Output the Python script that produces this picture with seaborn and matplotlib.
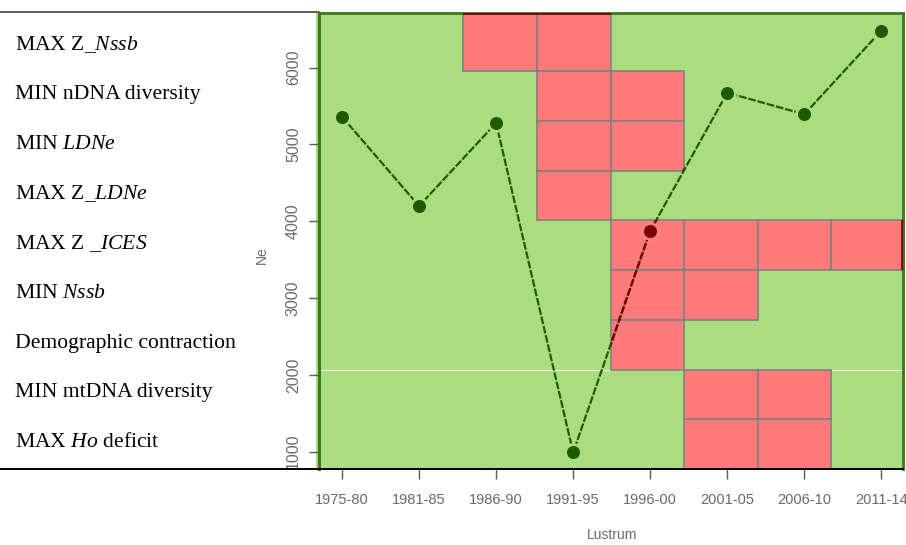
import matplotlib
matplotlib.use("Agg")
import matplotlib.pyplot as plt
import pandas as pd
import seaborn as sns
from matplotlib.path import Path
from matplotlib.lines import Line2D
from matplotlib.transforms import blended_transform_factory

# ---- data -------------------------------------------------------------
lustra = ["1975-80", "1981-85", "1986-90", "1991-95",
          "1996-00", "2001-05", "2006-10", "2011-14"]
ne_values = [5362, 4199, 5280, 990, 3874, 5674, 5393, 6482]
ne_ticks = [1000, 2000, 3000, 4000, 5000, 6000]

indicators = [
    r"MAX Z_$\mathit{Nssb}$",
    "MIN nDNA diversity",
    r"MIN $\mathit{LDNe}$",
    r"MAX Z_$\mathit{LDNe}$",
    r"MAX Z _$\mathit{ICES}$",
    r"MIN $\mathit{Nssb}$",
    "Demographic contraction",
    "MIN mtDNA diversity",
    r"MAX $\mathit{Ho}$ deficit",
]
# 1 = the indicator flags a bottleneck signal in that lustrum
signals = [
    [0, 0, 1, 1, 0, 0, 0, 0],
    [0, 0, 0, 1, 1, 0, 0, 0],
    [0, 0, 0, 1, 1, 0, 0, 0],
    [0, 0, 0, 1, 0, 0, 0, 0],
    [0, 0, 0, 0, 1, 1, 1, 1],
    [0, 0, 0, 0, 1, 1, 0, 0],
    [0, 0, 0, 0, 1, 0, 0, 0],
    [0, 0, 0, 0, 0, 1, 1, 0],
    [0, 0, 0, 0, 0, 1, 1, 0],
]

# ---- style ------------------------------------------------------------
GREEN = "#AADD7E"
RED = "#FF7B7B"
CELL_EDGE = "#808080"
PT_GREEN = "#1E5A00"
PT_RED = "#7A0000"
SPINE_GREEN = "#3B7A1C"
TICK_GREY = "#6A6A6A"

sns.set_style("ticks")
plt.rcParams.update({
    "font.family": ["Liberation Sans", "DejaVu Sans"],
    "mathtext.fontset": "custom",
    "mathtext.rm": "Liberation Serif",
    "mathtext.it": "Liberation Serif:italic",
})

W, H = 906, 545
fig = plt.figure(figsize=(W / 100, H / 100), dpi=100)

# table of indicator signals, drawn underneath the Ne plot
ax_t = fig.add_axes([316 / W, (H - 469) / H, (905 - 316) / W, 456 / H], zorder=0)
# Ne time series
ax = fig.add_axes([319 / W, (H - 469) / H, 584 / W, 456 / H], zorder=1)

n_rows = len(indicators)
n_cols = len(lustra)
ax_t.set_xlim(0, n_cols)
ax_t.set_ylim(0, n_rows + 0.166)
ax_t.set_facecolor(GREEN)
ax_t.set_xticks([])
ax_t.set_yticks([])
for s in ax_t.spines.values():
    s.set_visible(False)

# faint row separator visible across the table
ax_t.axhline(2, color="#EEF6E6", lw=0.8, zorder=1)

zone_paths = []
for i, row in enumerate(signals):
    y0 = n_rows - 1 - i
    h = 1.5 if i == 0 else 1.0
    cols = [j for j, f in enumerate(row) if f]
    if cols:
        ax_t.barh(y=[y0] * len(cols), width=1, left=cols, height=h, align="edge",
                  color=RED, edgecolor=CELL_EDGE, linewidth=1.2, zorder=2)
    for j in cols:
        zone_paths.append(Path([(j, y0), (j + 1, y0), (j + 1, y0 + h),
                                (j, y0 + h), (j, y0)], closed=True))
red_zone = Path.make_compound_path(*zone_paths)

# indicator names in the left column of the table
lab_tf = blended_transform_factory(fig.transFigure, ax_t.transData)
for i, name in enumerate(indicators):
    ax_t.text(15 / W, n_rows - 1 - i + 0.53, name, transform=lab_tf,
              ha="left", va="center", fontsize=15.6,
              family="Liberation Serif", color="black")

# ---- Ne series --------------------------------------------------------
df = pd.DataFrame({"pos": range(n_cols), "ne": ne_values})
ax.patch.set_visible(False)

line_kw = dict(lw=1.6, linestyle=(0, (3.5, 0.8)), errorbar=None, legend=False)
sns.lineplot(data=df, x="pos", y="ne", ax=ax, color=PT_GREEN, zorder=3, **line_kw)
sns.scatterplot(data=df, x="pos", y="ne", ax=ax, color=PT_GREEN, s=130,
                edgecolor=GREEN, linewidth=2, zorder=4, legend=False)

# the same series tinted where it crosses flagged cells
sns.lineplot(data=df, x="pos", y="ne", ax=ax, color=PT_RED, zorder=5, **line_kw)
ax.lines[-1].set_clip_path(red_zone, ax_t.transData)
sns.scatterplot(data=df, x="pos", y="ne", ax=ax, color=PT_RED, s=130,
                edgecolor=RED, linewidth=2, zorder=6, legend=False)
ax.collections[-1].set_clip_path(red_zone, ax_t.transData)

ax.set_xlim(-0.2985, 7.281)
ax.set_ylim(774.7, 6712)
ax.set_xticks(range(n_cols))
ax.set_xticklabels(lustra)
ax.set_yticks(ne_ticks)
ax.set_yticklabels([str(v) for v in ne_ticks], rotation=90, va="center")
ax.tick_params(axis="both", direction="out", length=7, width=1,
               color="#5A5A5A", labelcolor=TICK_GREY)
ax.tick_params(axis="x", pad=10, labelsize=10.5)
ax.tick_params(axis="y", pad=6, labelsize=11.5)

ax.set_xlabel("Lustrum", fontsize=10, color=TICK_GREY)
ax.set_ylabel("Ne", fontsize=10, color=TICK_GREY)
ax.xaxis.set_label_coords(0.502, -0.129)
ax.yaxis.set_label_coords(-0.085, 0.469)

for side in ("left", "top", "right"):
    ax.spines[side].set_visible(True)
    ax.spines[side].set_color(SPINE_GREEN)
ax.spines["left"].set_linewidth(2.2)
ax.spines["top"].set_linewidth(2.0)
ax.spines["right"].set_linewidth(2.0)
ax.spines["bottom"].set_color("black")
ax.spines["bottom"].set_linewidth(1.4)

# frame tinted over flagged cells
frame = ax.plot([0, 1, 1], [1, 1, 0], transform=ax.transAxes,
                color=PT_RED, lw=2.6, zorder=7)[0]
frame.set_clip_path(red_zone, ax_t.transData)

# table rules
fig.add_artist(Line2D([0, 319 / W], [(H - 12) / H] * 2, color="#5A5A5A", lw=1.4))
fig.add_artist(Line2D([0, 903 / W], [(H - 469) / H] * 2, color="black", lw=1.4))

fig.savefig("out.png", dpi=100)
